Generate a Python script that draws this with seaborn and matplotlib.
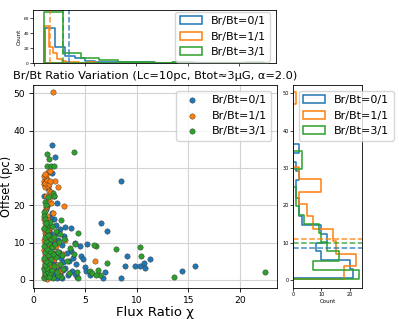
import numpy as np
import matplotlib
matplotlib.use("Agg")
import matplotlib.pyplot as plt
import seaborn as sns

labels = ["Br/Bt=0/1", "Br/Bt=1/1", "Br/Bt=3/1"]
colors = ["#1f77b4", "#ff7f0e", "#2ca02c"]

# scatter points (flux ratio, offset)
blue_x = [8.45, 6.58, 7.1, 9.07, 11.3, 8.84, 9.84, 10.33, 10.7, 10.78, 6.94, 6.74, 8.45, 14.4, 15.65,
          3.1, 3.6, 2.3, 3.0, 4.06, 5.16, 3.6, 4.6, 4.8, 4.15, 5.0, 5.1, 4.2, 1.81, 2.13, 1.77, 1.3,
          1.4, 1.0, 2.0, 1.3, 2.0, 1.6, 2.2, 1.3, 1.5, 1.9, 2.4, 1.2, 1.7, 2.1, 2.8, 1.4, 2.5, 1.9,
          3.2, 1.3, 2.2, 2.7, 1.6, 3.4, 1.2, 2.0, 2.9, 1.5, 2.4, 1.8, 3.1, 1.3, 2.2, 2.6, 1.6, 3.3,
          1.9, 2.8, 1.4, 2.3, 3.7, 1.7, 2.6, 1.5, 1.8, 1.2, 2.3, 1.6, 2.0, 1.5, 2.9, 4.5, 3.8, 4.0, 5.5]
blue_y = [26.6, 15.3, 13.2, 6.4, 5.6, 3.85, 3.85, 3.7, 4.6, 3.1, 2.06, 0.6, 0.45, 2.3, 3.76,
          14.2, 14.0, 12.7, 11.8, 10.0, 9.7, 7.8, 6.5, 5.6, 4.25, 3.4, 2.5, 0.7, 36.1, 33.0, 28.6, 25.9,
          24.5, 22.5, 22.5, 19.8, 16.2, 16.7, 14.8, 11.5, 10.8, 10.2, 10.6, 9.4, 9.0, 8.7, 9.3, 8.1, 7.6, 7.2,
          7.3, 6.6, 6.3, 5.9, 5.6, 5.2, 4.8, 4.5, 4.8, 3.9, 3.4, 3.0, 3.1, 2.5, 2.1, 1.6, 1.4, 1.2,
          0.8, 0.6, 0.9, 0.5, 2.4, 12.3, 13.6, 13.0, 17.8, 19.0, 20.5, 6.9, 1.9, 8.6, 2.7, 9.0, 5.8, 1.7, 1.2]

orange_x = [1.87, 1.45, 1.6, 1.0, 1.0, 1.1, 1.4, 2.1, 2.4, 1.5, 1.7, 1.7, 1.2, 3.0, 1.9, 1.3, 1.5,
            1.1, 1.2, 1.1, 6.0, 3.1, 2.9, 1.1, 1.2, 1.3, 1.0, 1.5, 1.2, 1.6, 1.1,
            1.0, 1.1, 1.2, 1.0, 1.3, 1.1, 1.4, 1.0, 1.2, 1.5, 1.1, 1.3, 1.0, 1.6, 1.2, 1.4, 1.1, 1.0,
            1.3, 1.5, 1.2, 1.4, 1.0, 1.7, 1.1, 1.2, 1.4, 1.8, 1.6, 2.0, 1.8, 2.2, 1.9, 2.5, 2.3, 1.0,
            1.3, 1.1, 1.5, 1.2, 1.4, 2.6, 1.7, 1.3]
orange_y = [50.2, 28.9, 29.3, 26.4, 25.6, 25.0, 25.2, 26.5, 24.9, 23.7, 23.5, 20.7, 19.6, 19.7, 18.0, 15.5, 15.0,
            15.3, 14.0, 12.7, 5.0, 10.6, 6.9, 26.0, 27.2, 26.8, 27.8, 25.8, 28.2, 26.6, 28.5,
            0.9, 1.6, 2.4, 3.1, 3.6, 4.2, 4.8, 5.3, 5.9, 6.4, 7.0, 7.6, 8.1, 8.5, 9.0, 9.6, 10.1, 10.7,
            11.2, 11.8, 12.3, 13.2, 13.7, 14.3, 2.0, 0.5, 1.2, 2.8, 3.9, 5.5, 7.3, 9.2, 11.0, 1.5, 4.0, 16.2,
            17.0, 18.5, 21.8, 22.6, 16.1, 2.3, 0.7, 0.3]

green_x = [1.29, 3.97, 1.48, 1.35, 1.68, 2.0, 1.4, 1.9, 2.0, 1.1, 1.2, 1.0, 1.0, 1.1, 2.7, 1.4, 1.8,
           4.3, 1.4, 2.6, 6.1, 8.0, 10.36, 10.45, 7.16, 6.26, 6.49, 13.6, 22.4, 3.0, 5.9, 4.0, 3.9,
           5.5, 4.2, 5.7, 6.1, 3.4, 4.3,
           1.0, 1.2, 1.1, 1.4, 1.0, 1.6, 1.3, 1.8, 1.1, 1.5, 2.0, 1.2, 1.7, 1.0, 2.2, 1.4, 1.9, 1.1,
           1.6, 2.4, 1.3, 1.8, 1.0, 2.1, 1.5, 1.2, 1.7, 2.5, 1.1, 1.4, 2.0, 1.3, 1.0, 2.2, 1.6, 1.2,
           2.7, 2.4, 2.9, 2.6, 3.2, 2.8, 3.5, 2.3, 1.9, 1.5]
green_y = [33.8, 34.3, 32.3, 30.5, 30.5, 30.5, 22.3, 23.4, 22.5, 21.0, 20.1, 18.3, 17.2, 16.4, 16.0, 14.8, 14.5,
           12.7, 12.3, 12.4, 9.1, 8.3, 8.8, 6.3, 4.5, 2.7, 1.25, 0.8, 2.15, 10.9, 9.4, 9.6, 6.9,
           2.5, 2.0, 1.8, 1.4, 1.8, 0.5,
           0.5, 1.0, 1.8, 2.2, 2.9, 1.5, 3.3, 2.6, 4.0, 4.5, 3.7, 5.1, 5.5, 6.0, 6.2, 6.6, 7.0, 7.4,
           7.8, 7.5, 8.3, 8.8, 9.2, 9.5, 9.9, 10.4, 10.9, 10.2, 11.6, 12.0, 11.5, 13.4, 13.9, 13.2, 15.6, 15.2,
           0.8, 1.3, 2.9, 4.3, 5.0, 6.8, 8.6, 2.0, 0.6, 0.9]

# top marginal histogram (flux ratio): bin edges and counts
blue_xedges = [1.16, 2.13, 3.09, 4.06, 5.02, 5.99, 6.96, 7.92, 8.89, 9.85, 10.82, 11.79, 12.75, 13.72, 14.68, 15.65]
blue_xcounts = [47, 21, 10, 7, 3, 2, 2, 1, 2, 2, 1, 0, 0, 1, 1]
orange_xedges = [1.06, 1.48, 1.90, 2.32, 2.74, 3.16, 3.58, 4.00, 4.42, 4.84, 5.26, 5.68, 6.10]
orange_xcounts = [49, 22, 13, 6, 3, 2, 1, 1, 0, 0, 1, 1]
green_xedges = [1.06, 2.84, 4.62, 6.40, 8.18, 9.96, 11.74, 13.52, 15.30, 17.08, 18.86, 20.64, 22.42]
green_xcounts = [69, 14, 7, 4, 2, 2, 0, 1, 0, 0, 0, 1]

# right marginal histogram (offset)
blue_yedges = [0.45, 2.84, 5.23, 7.62, 10.01, 12.40, 14.79, 17.18, 19.57, 21.96, 24.35, 26.74, 29.13, 31.52, 33.91, 36.30]
blue_ycounts = [21, 20, 10, 8, 12, 10, 3, 2, 2, 1, 1, 2, 1, 0, 2]
orange_yedges = [0.3, 3.64, 6.98, 10.32, 13.66, 17.0, 20.34, 23.68, 27.02, 30.36, 33.7, 37.04, 40.38, 43.72, 47.06, 50.4]
orange_ycounts = [18, 22, 15, 14, 7, 5, 2, 10, 2, 0, 0, 0, 0, 0, 1]
green_yedges = [0.3, 2.75, 5.2, 7.65, 10.1, 12.55, 15.0, 17.45, 19.9, 22.35, 24.8, 27.25, 29.7, 32.15, 34.6]
green_ycounts = [23, 7, 16, 12, 10, 9, 4, 2, 1, 1, 0, 0, 3, 3]

# mean markers (dashed lines)
x_means = [3.5, 1.62, 2.85]
y_means = [8.6, 11.0, 9.9]

scatter_sets = [(blue_x, blue_y), (orange_x, orange_y), (green_x, green_y)]
top_hists = [(blue_xedges, blue_xcounts), (orange_xedges, orange_xcounts), (green_xedges, green_xcounts)]
right_hists = [(blue_yedges, blue_ycounts), (orange_yedges, orange_ycounts), (green_yedges, green_ycounts)]

fig = plt.figure(figsize=(3.99, 3.19), dpi=100)
ax = fig.add_axes([0.0827, 0.0972, 0.6115, 0.6364])
ax_top = fig.add_axes([0.0827, 0.8025, 0.609, 0.166])
ax_right = fig.add_axes([0.7343, 0.0972, 0.1729, 0.6364])

# ---- main scatter ----
for (xs, ys), c, lbl in zip(scatter_sets, colors, labels):
    sns.scatterplot(x=xs, y=ys, color=c, s=15, edgecolor="#333333", linewidth=0.3,
                    label=lbl, ax=ax, zorder=3)
ax.set_xlim(-0.05, 23.6)
ax.set_ylim(-2.15, 52.2)
ax.set_xticks([0, 5, 10, 15, 20])
ax.set_yticks([0, 10, 20, 30, 40, 50])
ax.grid(True, color="#d3d3d3", lw=0.8)
ax.set_axisbelow(True)
ax.tick_params(labelsize=6.6, length=3, width=0.6, pad=2.5)
ax.set_xlabel("Flux Ratio χ", fontsize=9.5, labelpad=1)
ax.set_ylabel("Offset (pc)", fontsize=8.3)
ax.yaxis.set_label_coords(-0.083, 0.5)
ax.set_title("Br/Bt Ratio Variation (Lc=10pc, Btot≈3μG, α=2.0)", fontsize=8.2, pad=4)
ax.legend(loc="upper right", fontsize=8)
for sp in ax.spines.values():
    sp.set_linewidth(0.6)

# ---- top histogram ----
for (edges, counts), c, lbl, m in zip(top_hists, colors, labels, x_means):
    mids = [(a + b) / 2 for a, b in zip(edges[:-1], edges[1:])]
    sns.histplot(x=mids, weights=counts, bins=list(edges), element="step", fill=True,
                 color=c, facecolor="none", edgecolor=c, linewidth=1.1, alpha=0.85,
                 label=lbl, ax=ax_top)
    ax_top.axvline(m, color=c, ls="--", lw=1.1, alpha=0.85)
ax_top.set_xlim(ax.get_xlim())
ax_top.set_ylim(0, 71)
ax_top.set_xticks([0, 5, 10, 15, 20])
ax_top.set_xticklabels([])
ax_top.set_yticks([0, 20, 40, 60])
ax_top.tick_params(labelsize=3.2, length=2, width=0.5, pad=1)
ax_top.set_xlabel("")
ax_top.set_ylabel("Count", fontsize=4, labelpad=1)
ax_top.legend(loc="center right", fontsize=8)
for sp in ax_top.spines.values():
    sp.set_linewidth(0.6)

# ---- right histogram ----
for (edges, counts), c, lbl, m in zip(right_hists, colors, labels, y_means):
    mids = [(a + b) / 2 for a, b in zip(edges[:-1], edges[1:])]
    sns.histplot(y=mids, weights=counts, bins=list(edges), element="step", fill=True,
                 color=c, facecolor="none", edgecolor=c, linewidth=1.1, alpha=0.85,
                 label=lbl, ax=ax_right)
    ax_right.axhline(m, color=c, ls="--", lw=1.1, alpha=0.85)
ax_right.set_ylim(ax.get_ylim())
ax_right.set_xlim(0, 24.2)
ax_right.set_xticks([0, 10, 20])
ax_right.set_yticks([0, 10, 20, 30, 40, 50])
ax_right.tick_params(labelsize=3.6, length=2, width=0.5, pad=1)
ax_right.set_ylabel("")
ax_right.set_xlabel("Count", fontsize=4, labelpad=1)
ax_right.legend(loc="upper left", fontsize=8)
for sp in ax_right.spines.values():
    sp.set_linewidth(0.6)

fig.savefig("out.png", dpi=100)
